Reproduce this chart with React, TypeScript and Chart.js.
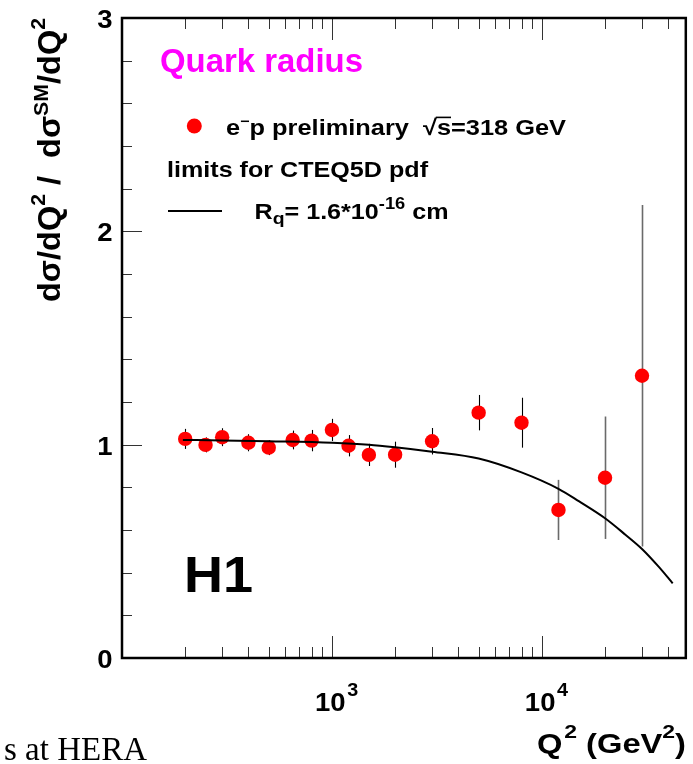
import React, { useEffect, useRef } from 'react';
import { Chart, registerables } from 'chart.js';

Chart.register(...registerables);

// Measured points: Q^2 (GeV^2), ratio dσ/dσSM, symmetric error
const Q2 = [200, 250, 300, 400, 500, 650, 800, 1000, 1200, 1500, 2000, 3000, 5000, 8000, 12000, 20000, 30000];
const RATIO = [1.027, 0.999, 1.035, 1.009, 0.986, 1.022, 1.019, 1.069, 0.995, 0.952, 0.953, 1.016, 1.15, 1.103, 0.694, 0.845, 1.323];
const ERR = [0.047, 0.035, 0.042, 0.04, 0.035, 0.044, 0.05, 0.052, 0.05, 0.052, 0.061, 0.062, 0.083, 0.117, 0.141, 0.287, 0.8];

// Limit curve, Rq = 1.6e-16 cm
const CURVE_Q2 = [195, 300, 500, 1000, 1500, 2000, 3000, 5000, 8000, 12000, 15000, 20000, 25000, 30000, 36000, 42000];
const CURVE_R = [1.022, 1.02, 1.016, 1.009, 1.0, 0.988, 0.967, 0.935, 0.87, 0.793, 0.735, 0.655, 0.578, 0.511, 0.428, 0.35];

// Axes
const X_MIN = 100;
const X_MAX = 48500;
const Y_MIN = 0;
const Y_MAX = 3;
const Y_LABEL_VALUES = [0, 1, 2, 3];
const Y_LABELS = ['0', '1', '2', '3'];
const X_MAJOR = [1000, 10000];
const X_MAJOR_EXP = ['3', '4'];

const FONT = '"Liberation Sans", Arial, Helvetica, sans-serif';
const SERIF = '"Liberation Serif", "Times New Roman", serif';

type Seg = { t: string; size: number; dy?: number; dx?: number; over?: boolean };
type RichOpts = { target?: number; sx?: number; align?: 'left' | 'right' | 'center'; color?: string; family?: string; weight?: string };

function rich(ctx: CanvasRenderingContext2D, segs: Seg[], x: number, y: number, o: RichOpts = {}) {
  const fam = o.family || FONT;
  const wt = o.weight ?? 'bold';
  const widths = segs.map((s) => {
    ctx.font = `${wt} ${s.size}px ${fam}`;
    return ctx.measureText(s.t).width + (s.dx || 0);
  });
  const W = widths.reduce((a, b) => a + b, 0);
  const sx = o.target ? o.target / W : o.sx ?? 1;
  let start = x;
  if (o.align === 'right') start = x - W * sx;
  else if (o.align === 'center') start = x - (W * sx) / 2;
  ctx.save();
  ctx.translate(start, y);
  ctx.scale(sx, 1);
  ctx.fillStyle = o.color || '#000';
  ctx.strokeStyle = o.color || '#000';
  ctx.textBaseline = 'alphabetic';
  ctx.textAlign = 'left';
  let cx = 0;
  segs.forEach((s, i) => {
    ctx.font = `${wt} ${s.size}px ${fam}`;
    cx += s.dx || 0;
    const w = widths[i] - (s.dx || 0);
    ctx.fillText(s.t, cx, s.dy || 0);
    if (s.over) {
      const yy = (s.dy || 0) - s.size * 0.8;
      ctx.lineWidth = 1.6;
      ctx.beginPath();
      ctx.moveTo(cx - 1, yy);
      ctx.lineTo(cx + w, yy);
      ctx.stroke();
    }
    cx += w;
  });
  ctx.restore();
}

function seg(ctx: CanvasRenderingContext2D, x1: number, y1: number, x2: number, y2: number) {
  ctx.beginPath();
  ctx.moveTo(x1, y1);
  ctx.lineTo(x2, y2);
  ctx.stroke();
}

const decorPlugin = {
  id: 'decor',
  beforeDraw(chart: any) {
    const ctx = chart.ctx as CanvasRenderingContext2D;
    ctx.save();
    ctx.fillStyle = '#fff';
    ctx.fillRect(0, 0, chart.width, chart.height);
    ctx.restore();
  },
  beforeDatasetsDraw(chart: any) {
    const ctx = chart.ctx as CanvasRenderingContext2D;
    const { x, y } = chart.scales;
    ctx.save();
    Q2.forEach((q, i) => {
      const px = Math.round(x.getPixelForValue(q)) + 0.5;
      const y1 = y.getPixelForValue(RATIO[i] + ERR[i]);
      const y2 = y.getPixelForValue(RATIO[i] - ERR[i]);
      const big = ERR[i] > 0.13;
      ctx.strokeStyle = big ? '#6a6a6a' : '#000';
      ctx.lineWidth = big ? 1.6 : 1.1;
      seg(ctx, px, y1, px, y2);
    });
    ctx.restore();
  },
  afterDraw(chart: any) {
    const ctx = chart.ctx as CanvasRenderingContext2D;
    const { left, right, top, bottom } = chart.chartArea;
    const { x, y } = chart.scales;
    ctx.save();

    // Y ticks (inward, left side)
    ctx.strokeStyle = '#333';
    ctx.lineWidth = 1;
    for (let k = 0; k <= 15; k++) {
      const v = Y_MIN + k * 0.2;
      const py = Math.round(y.getPixelForValue(v)) + 0.5;
      const major = k % 5 === 0;
      seg(ctx, left, py, left + (major ? 20 : 10), py);
    }
    // X ticks (inward, bottom and top)
    for (let e = 2; e <= 4; e++) {
      for (let k = 1; k <= 9; k++) {
        const v = k * Math.pow(10, e);
        if (v <= X_MIN || v >= X_MAX) continue;
        const px = Math.round(x.getPixelForValue(v)) + 0.5;
        const len = k === 1 ? 22 : 11;
        seg(ctx, px, bottom, px, bottom - len);
        seg(ctx, px, top, px, top + len);
      }
    }

    // Frame
    ctx.strokeStyle = '#000';
    ctx.lineWidth = 2.5;
    ctx.strokeRect(left, top, right - left, bottom - top);

    // Y tick labels
    Y_LABEL_VALUES.forEach((v, i) => {
      const py = y.getPixelForValue(v);
      rich(ctx, [{ t: Y_LABELS[i], size: 25 }], 112.5, py + 10, { align: 'right', sx: 1.1 });
    });

    // X tick labels
    X_MAJOR.forEach((v, i) => {
      const px = x.getPixelForValue(v);
      rich(ctx, [{ t: '10', size: 25 }, { t: X_MAJOR_EXP[i], size: 18, dy: -15, dx: 1.5 }], px - 17, 711, { sx: 1.1 });
    });

    // X title
    rich(
      ctx,
      [
        { t: 'Q', size: 27 },
        { t: '2', size: 19, dy: -15, dx: 1.5 },
        { t: ' (GeV', size: 27 },
        { t: '2', size: 19, dy: -15 },
        { t: ')', size: 27 },
      ],
      686,
      753,
      { align: 'right', target: 149 }
    );

    // Y title (rotated)
    ctx.save();
    ctx.translate(59.5, 302);
    ctx.rotate(-Math.PI / 2);
    rich(
      ctx,
      [
        { t: 'd\u03c3/dQ', size: 32 },
        { t: '2', size: 21, dy: -15 },
        { t: ' /  d\u03c3', size: 32 },
        { t: 'SM', size: 21, dy: -12 },
        { t: '/dQ', size: 32 },
        { t: '2', size: 21, dy: -15 },
      ],
      0,
      0,
      { target: 284 }
    );
    ctx.restore();

    // Legend / annotations
    rich(ctx, [{ t: 'Quark radius', size: 33 }], 160, 72, { target: 203, color: '#ff00ff' });

    ctx.fillStyle = '#ff0000';
    ctx.beginPath();
    ctx.arc(194.3, 126, 7.5, 0, Math.PI * 2);
    ctx.fill();

    rich(
      ctx,
      [
        { t: 'e', size: 22 },
        { t: '\u2212', size: 14, dy: -9 },
        { t: 'p preliminary  \u221a', size: 22 },
        { t: 's', size: 22, over: true },
        { t: '=318 GeV', size: 22 },
      ],
      226,
      135,
      { target: 340 }
    );

    rich(ctx, [{ t: 'limits for CTEQ5D pdf', size: 22 }], 167, 177, { target: 261 });

    ctx.strokeStyle = '#000';
    ctx.lineWidth = 2;
    seg(ctx, 168, 211, 222, 211);

    rich(
      ctx,
      [
        { t: 'R', size: 22 },
        { t: 'q', size: 17, dy: 5 },
        { t: '= 1.6*10', size: 22 },
        { t: '-16', size: 16, dy: -10 },
        { t: ' cm', size: 22 },
      ],
      254.5,
      218.5,
      { target: 194 }
    );

    rich(ctx, [{ t: 'H1', size: 50 }], 184, 592, { sx: 1.08 });

    // Cut-off page caption
    rich(ctx, [{ t: 's at HERA', size: 33 }], 147, 760, { align: 'right', family: SERIF, weight: 'normal' });

    ctx.restore();
  },
};

export default function App() {
  const ref = useRef<HTMLCanvasElement>(null);

  useEffect(() => {
    if (!ref.current) return;
    const points = Q2.map((q, i) => ({ x: q, y: RATIO[i] }));
    const curve = CURVE_Q2.map((q, i) => ({ x: q, y: CURVE_R[i] }));
    const chart = new Chart(ref.current, {
      type: 'scatter',
      data: {
        datasets: [
          {
            label: 'Rq = 1.6e-16 cm',
            data: curve,
            showLine: true,
            borderColor: '#000',
            borderWidth: 2,
            pointRadius: 0,
            cubicInterpolationMode: 'monotone',
            fill: false,
          } as any,
          {
            label: 'e-p preliminary',
            data: points,
            pointRadius: 7.2,
            pointBackgroundColor: '#ff0000',
            pointBorderWidth: 0,
            borderColor: '#ff0000',
            showLine: false,
          } as any,
        ],
      },
      options: {
        responsive: false,
        devicePixelRatio: 1,
        animation: false,
        events: [],
        layout: { padding: { left: 122, right: 7, top: 18, bottom: 106 } },
        plugins: { legend: { display: false }, tooltip: { enabled: false } },
        scales: {
          x: { type: 'logarithmic', min: X_MIN, max: X_MAX, display: false },
          y: { type: 'linear', min: Y_MIN, max: Y_MAX, display: false },
        },
      },
      plugins: [decorPlugin],
    });
    return () => chart.destroy();
  }, []);

  return (
    <div style={{ position: 'fixed', left: 0, top: 0, width: 693, height: 764, background: '#fff' }}>
      <canvas ref={ref} width={693} height={764} style={{ display: 'block', width: 693, height: 764 }} />
    </div>
  );
}
